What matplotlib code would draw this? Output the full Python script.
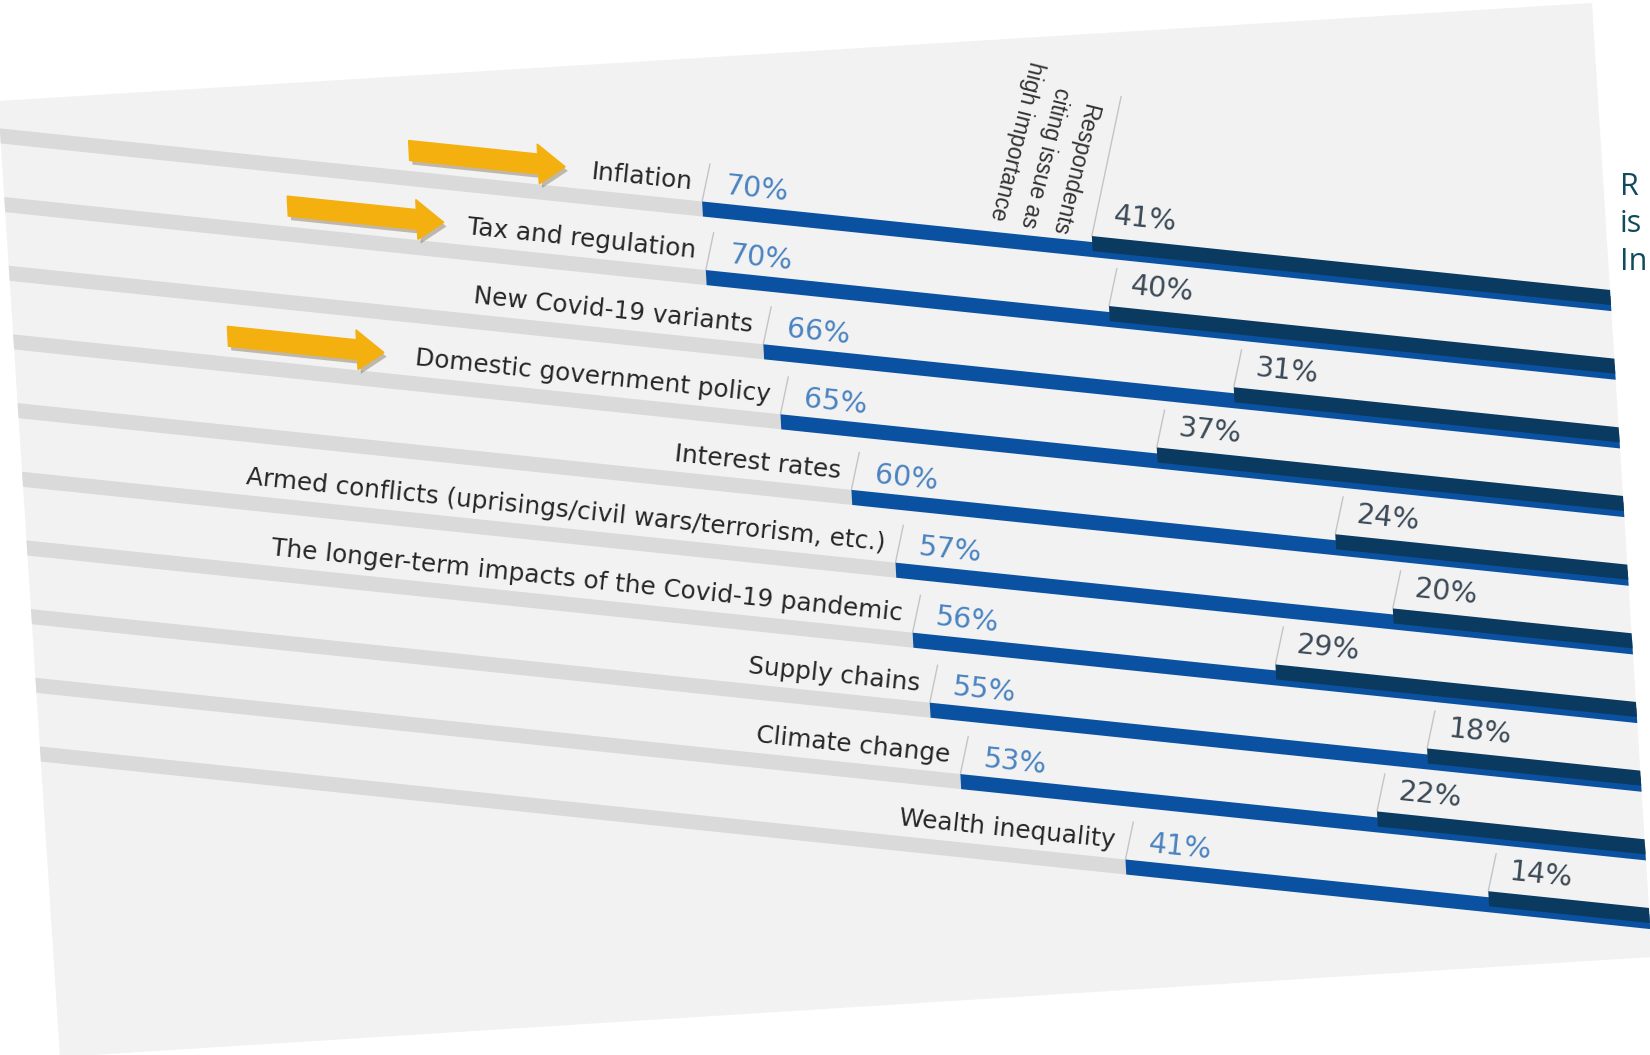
import numpy as np
import matplotlib.pyplot as plt
from matplotlib.transforms import Affine2D
from matplotlib.patches import Polygon, FancyArrow
import matplotlib.patheffects as pe

categories = [
    "Inflation",
    "Tax and regulation",
    "New Covid-19 variants",
    "Domestic government policy",
    "Interest rates",
    "Armed conflicts (uprisings/civil wars/terrorism, etc.)",
    "The longer-term impacts of the Covid-19 pandemic",
    "Supply chains",
    "Climate change",
    "Wealth inequality",
]
high_importance = [70, 70, 66, 65, 60, 57, 56, 55, 53, 41]
second_share = [41, 40, 31, 37, 24, 20, 29, 18, 22, 14]
header = "Respondents\nciting issue as\nhigh importance"
side_lines = ["R", "is", "In"]
arrow_rows = [0, 1, 3]

# layout of the tilted "photo" of the chart
arrow_tips = [80.1, 89.4, 94.4]     # in percent units along the row
P0 = (1644.0, 307.0)                # pixel of 0 % on row 0
EX = (-13.45, -1.40)                # pixel step per percentage point
EY = (3.7, 68.6)                    # pixel step per row
LEAN = 0.21                         # lean of the "vertical" tick lines
BAR_H = 0.22

BLUE = "#0a52a1"
NAVY = "#0a3a60"
TRACK = "#dadada"
PANEL = "#f2f2f2"

fig = plt.figure(figsize=(16.5, 10.55), dpi=100)
ax = fig.add_axes([0, 0, 1, 1])
ax.set_xlim(0, 1650)
ax.set_ylim(1055, 0)
ax.axis("off")

panel = Polygon([(-2, 101), (1592, 3), (1652, 957), (60, 1057)],
                closed=True, facecolor=PANEL, edgecolor="none", zorder=0)
ax.add_patch(panel)

chart = Affine2D(np.array([[EX[0], EY[0], P0[0]],
                           [EX[1], EY[1], P0[1]],
                           [0, 0, 1]]))
trans = chart + ax.transData
rot = -np.degrees(np.arctan2(-EX[1], -EX[0]))

rows = np.arange(len(categories))
hi = np.array(high_importance)
lo = np.array(second_share)

track = ax.barh(rows, 140 - hi, left=hi, height=BAR_H, color=TRACK, zorder=2)
blue = ax.barh(rows, hi, height=BAR_H, color=BLUE, zorder=3)
dark = ax.barh(rows - 0.088, lo, height=BAR_H, color=NAVY, zorder=4)
for bar in list(track) + list(blue) + list(dark):
    bar.set_transform(trans)
    bar.set_clip_path(panel)


def tick(v, r, length):
    x0, y0 = chart.transform((v, r))
    ax.plot([x0, x0 + LEAN * length], [y0, y0 - length],
            color="#c4c4c4", lw=1.0, zorder=1, solid_capstyle="butt")


for r, (cat, v, w) in enumerate(zip(categories, hi, lo)):
    tick(v, r - BAR_H / 2, 38)
    tick(w, r - 0.088 - BAR_H / 2, 140 if r == 0 else 38)
    ax.text(v + 0.75, r - 0.27, cat, transform=trans, rotation=rot,
            rotation_mode="anchor", ha="right", va="baseline",
            fontsize=17.8, color="#262626", zorder=5)
    ax.text(v - 1.7, r - 0.25, f"{v}%", transform=trans, rotation=rot,
            rotation_mode="anchor", ha="left", va="baseline",
            fontsize=20.5, color="#4a83c0", zorder=5)
    ax.text(w - 1.6, r - 0.40, f"{w}%", transform=trans, rotation=rot,
            rotation_mode="anchor", ha="left", va="baseline",
            fontsize=20.5, color="#3c4a58", zorder=5)

# orange call-out arrows
for r, tip in zip(arrow_rows, arrow_tips):
    arr = FancyArrow(tip + 11.6, r - 0.41, -11.6, 0, width=0.29,
                     head_width=0.58, head_length=2.0,
                     length_includes_head=True, color="#f4b00f",
                     transform=trans, zorder=6)
    arr.set_path_effects([pe.SimplePatchShadow(offset=(2, -3), alpha=0.3),
                          pe.Normal()])
    ax.add_patch(arr)

ax.text(44.0, -1.42, header, transform=trans, rotation=-104,
        ha="center", va="center", multialignment="right", linespacing=1.45,
        fontsize=16.5, family="Liberation Sans", color="#333333", zorder=5)

for i, s in enumerate(side_lines):
    ax.text(1620, 195 + 37.5 * i, s, ha="left", va="baseline",
            fontsize=22, family="Open Sans", color="#0f4b5c")

fig.savefig("out.png", dpi=100)
